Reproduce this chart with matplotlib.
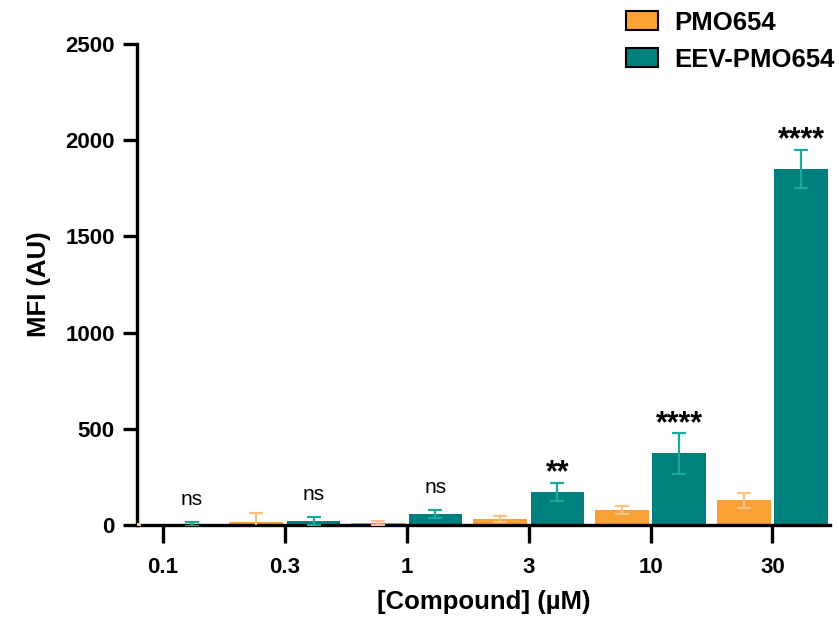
import numpy as np
import matplotlib
matplotlib.use("Agg")
import matplotlib.pyplot as plt

# Data
concentrations = ["0.1", "0.3", "1", "3", "10", "30"]
pmo_mean = [3, 15, 12, 31, 78, 128]
pmo_err = [3, 47, 10, 15, 20, 40]
eev_mean = [5, 20, 58, 172, 372, 1850]
eev_err = [11, 22, 20, 47, 105, 100]
significance = ["ns", "ns", "ns", "**", "****", "****"]

orange = "#F9A134"
orange_err = "#FCC284"
teal = "#007F7F"
teal_err = "#17A99A"

plt.rcParams["font.family"] = ["Liberation Sans", "DejaVu Sans"]
plt.rcParams["font.weight"] = "bold"


def main():
    fig = plt.figure(figsize=(8.39, 6.18), dpi=100)
    ax = fig.add_axes([0.1633, 0.1505, 0.8257, 0.7783])

    x = np.arange(len(concentrations))
    width = 0.44
    offset = 0.235

    b1 = ax.bar(x - offset, pmo_mean, width, color=orange, zorder=2, label="PMO654")
    b2 = ax.bar(x + offset, eev_mean, width, color=teal, zorder=2, label="EEV-PMO654")
    ax.errorbar(x - offset, pmo_mean, yerr=pmo_err, fmt="none", ecolor=orange_err,
                elinewidth=1.6, capsize=5, capthick=1.6, zorder=3)
    ax.errorbar(x + offset, eev_mean, yerr=eev_err, fmt="none", ecolor=teal_err,
                elinewidth=1.6, capsize=5, capthick=1.6, zorder=3)

    for xi, m, e, s in zip(x, eev_mean, eev_err, significance):
        if s == "ns":
            ax.annotate(s, (xi + offset, m + e), xytext=(0, 9), textcoords="offset points",
                        ha="center", va="bottom", fontsize=15, fontweight="normal")
        else:
            ax.annotate(s, (xi + offset, m + e), xytext=(0, 1), textcoords="offset points",
                        ha="center", va="baseline", fontsize=22, fontweight="bold")

    ax.set_xlim(-0.213, 5.47)
    ax.set_ylim(0, 2500)
    ax.set_yticks([0, 500, 1000, 1500, 2000, 2500])
    ax.set_xticks(x)
    ax.set_xticklabels(concentrations)

    for side in ["top", "right"]:
        ax.spines[side].set_visible(False)
    for side in ["left", "bottom"]:
        ax.spines[side].set_linewidth(2.4)
    ax.tick_params(axis="y", length=10, width=2.4, labelsize=16, pad=6)
    ax.tick_params(axis="x", length=13, width=2.4, labelsize=16, pad=10)

    ax.set_ylabel("MFI (AU)", fontsize=18.5, fontweight="bold", labelpad=10)
    ax.set_xlabel("[Compound] (µM)", fontsize=18.5, fontweight="bold", labelpad=9)

    fig.legend(handles=[b1, b2], loc="upper left", bbox_to_anchor=(0.722, 1.016),
               frameon=False, fontsize=18.5, handlelength=1.25, handleheight=0.78,
               handletextpad=0.6, labelspacing=0.5, borderpad=0.3)
    for patch in fig.legends[0].get_patches():
        patch.set_edgecolor("black")
        patch.set_linewidth(1.5)

    fig.savefig("out.png", dpi=100)


if __name__ == "__main__":
    main()
